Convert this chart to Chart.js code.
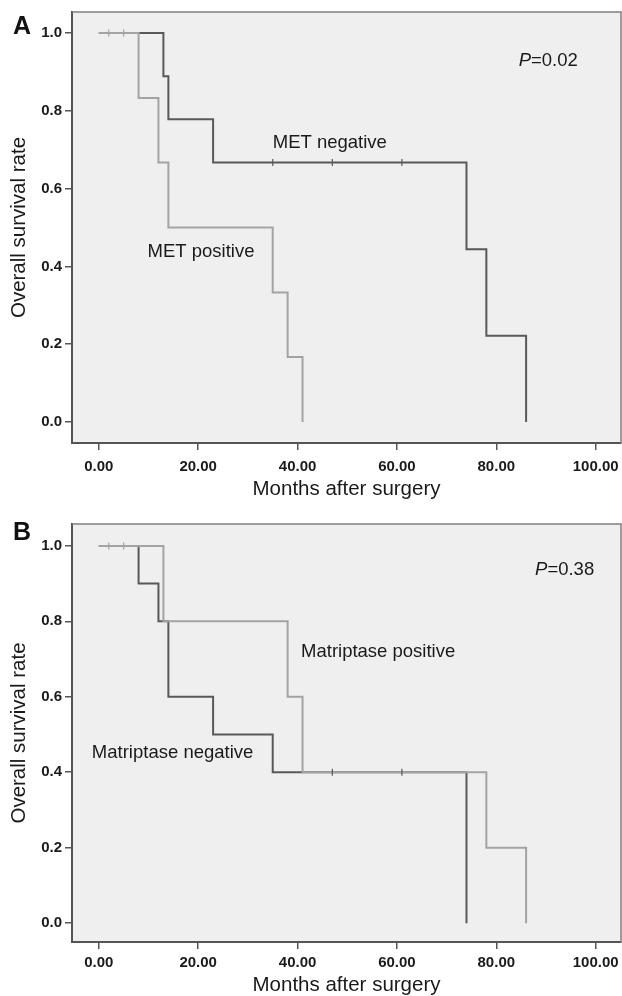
<!DOCTYPE html>
<html>
<head>
<meta charset="utf-8">
<script src="https://cdn.jsdelivr.net/npm/chart.js@4.4.1/dist/chart.umd.min.js"></script>
<style>
  body { margin: 0; background: #fff; overflow: hidden; }
  canvas { display: block; }
</style>
</head>
<body>
<canvas id="panelA" width="622" height="500"></canvas>
<canvas id="panelB" width="622" height="496"></canvas>
<script>
// tick labels shared by both panels
const monthTicks = [0, 20, 40, 60, 80, 100];
const survTicks = [0, 0.2, 0.4, 0.6, 0.8, 1.0];

// panel A - MET
const metNegTime = [0, 13, 14, 23, 74, 78, 86];
const metNegSurv = [1, 0.889, 0.778, 0.667, 0.444, 0.222, 0];
const metNegCensTime = [35, 47, 61];
const metNegCensSurv = [0.667, 0.667, 0.667];
const metPosTime = [0, 8, 12, 14, 35, 38, 41];
const metPosSurv = [1, 0.833, 0.667, 0.5, 0.333, 0.167, 0];
const metPosCensTime = [2, 5];
const metPosCensSurv = [1, 1];

// panel B - Matriptase
const matNegTime = [0, 8, 12, 14, 23, 35, 74];
const matNegSurv = [1, 0.9, 0.8, 0.6, 0.5, 0.4, 0];
const matNegCensTime = [47, 61];
const matNegCensSurv = [0.4, 0.4];
const matPosTime = [0, 13, 38, 41, 78, 86];
const matPosSurv = [1, 0.8, 0.6, 0.4, 0.2, 0];
const matPosCensTime = [2, 5];
const matPosCensSurv = [1, 1];

const DARK = '#595959';
const LIGHT = '#a3a3a3';
const FONT = "'Liberation Sans', Arial, sans-serif";

function pts(xs, ys) {
  return xs.map((x, i) => ({ x: x, y: ys[i] }));
}

function curve(xs, ys, color, order) {
  return {
    data: pts(xs, ys),
    showLine: true,
    stepped: true,
    borderColor: color,
    borderWidth: 2,
    pointRadius: 0,
    order: order
  };
}

function censor(xs, ys, color, order) {
  return {
    data: pts(xs, ys),
    showLine: false,
    pointStyle: 'line',
    rotation: 90,
    pointRadius: 3.5,
    borderColor: color,
    borderWidth: 1.2,
    order: order
  };
}

// background + frame + panel letter + notes
const decor = {
  id: 'decor',
  beforeDraw(chart) {
    const a = chart.chartArea, ctx = chart.ctx;
    ctx.save();
    ctx.fillStyle = '#efefef';
    ctx.fillRect(a.left, a.top, a.right - a.left, a.bottom - a.top);
    ctx.restore();
  },
  afterDraw(chart, args, opts) {
    const a = chart.chartArea, ctx = chart.ctx;
    const xs = chart.scales.x, ys = chart.scales.y;
    ctx.save();
    ctx.strokeStyle = '#808080';
    ctx.lineWidth = 1.5;
    ctx.beginPath();
    ctx.moveTo(a.left, a.top);
    ctx.lineTo(a.right, a.top);
    ctx.lineTo(a.right, a.bottom);
    ctx.stroke();

    ctx.fillStyle = '#111';
    ctx.font = 'bold 25px ' + FONT;
    ctx.textAlign = 'center';
    ctx.textBaseline = 'middle';
    ctx.fillText(opts.letter, 22, opts.letterY);

    ctx.fillStyle = '#1a1a1a';
    ctx.textBaseline = 'middle';
    opts.notes.forEach(n => {
      const px = xs.getPixelForValue(n.x), py = ys.getPixelForValue(n.y);
      ctx.textAlign = 'left';
      if (n.p) {
        ctx.font = 'italic 18.5px ' + FONT;
        ctx.fillText('P', px, py);
        const w = ctx.measureText('P').width;
        ctx.font = '18.5px ' + FONT;
        ctx.fillText(n.text, px + w, py);
      } else {
        ctx.font = '18.5px ' + FONT;
        ctx.fillText(n.text, px, py);
      }
    });
    ctx.restore();
  }
};

function makePanel(id, datasets, cfg) {
  return new Chart(document.getElementById(id), {
    type: 'scatter',
    data: { datasets: datasets },
    plugins: [decor],
    options: {
      responsive: false,
      animation: false,
      layout: { autoPadding: false, padding: { left: 0, top: cfg.top, right: 1, bottom: 0 } },
      plugins: {
        legend: { display: false },
        tooltip: { enabled: false },
        decor: { letter: cfg.letter, letterY: cfg.letterY, notes: cfg.notes }
      },
      scales: {
        x: {
          type: 'linear',
          min: -5.4,
          max: 105.1,
          afterFit: s => { s.height = cfg.xHeight; s.paddingLeft = 0; s.paddingRight = 0; },
          afterBuildTicks: s => { s.ticks = monthTicks.map(v => ({ value: v })); },
          ticks: {
            padding: cfg.xPad,
            color: '#1a1a1a',
            font: { family: FONT, size: 15, weight: 'bold', lineHeight: 1.2 },
            callback: v => v.toFixed(2)
          },
          grid: { drawOnChartArea: false, drawTicks: true, tickLength: 7, color: '#555', lineWidth: 1.5 },
          border: { display: true, color: '#555', width: 2 },
          title: {
            display: true,
            text: 'Months after surgery',
            color: '#1a1a1a',
            font: { family: FONT, size: 20.5, lineHeight: 1 },
            padding: { top: 0, bottom: 0 }
          }
        },
        y: {
          type: 'linear',
          min: cfg.yMin,
          max: cfg.yMax,
          afterFit: s => { s.width = 72; },
          afterBuildTicks: s => { s.ticks = survTicks.map(v => ({ value: v })); },
          ticks: {
            padding: 3,
            color: '#1a1a1a',
            font: { family: FONT, size: 15, weight: 'bold' },
            callback: v => v.toFixed(1)
          },
          grid: { drawOnChartArea: false, drawTicks: true, tickLength: 7, color: '#555', lineWidth: 1.5 },
          border: { display: true, color: '#555', width: 2 },
          title: {
            display: true,
            text: 'Overall survival rate',
            color: '#1a1a1a',
            font: { family: FONT, size: 20.5, lineHeight: 1.2 },
            padding: { top: 7, bottom: 0 }
          }
        }
      }
    }
  });
}

makePanel('panelA', [
  curve(metPosTime, metPosSurv, LIGHT, 1),
  censor(metPosCensTime, metPosCensSurv, LIGHT, 0),
  curve(metNegTime, metNegSurv, DARK, 2),
  censor(metNegCensTime, metNegCensSurv, DARK, 0)
], {
  letter: 'A', letterY: 27, top: 11, xHeight: 57, xPad: 8,
  yMin: -0.054, yMax: 1.054,
  notes: [
    { text: 'MET negative', x: 35, y: 0.718 },
    { text: 'MET positive', x: 9.8, y: 0.438 },
    { text: '=0.02', x: 84.5, y: 0.928, p: true }
  ]
});

makePanel('panelB', [
  curve(matPosTime, matPosSurv, LIGHT, 1),
  censor(matPosCensTime, matPosCensSurv, LIGHT, 0),
  curve(matNegTime, matNegSurv, DARK, 2),
  censor(matNegCensTime, matNegCensSurv, DARK, 0)
], {
  letter: 'B', letterY: 33, top: 24, xHeight: 54, xPad: 5,
  yMin: -0.05, yMax: 1.058,
  notes: [
    { text: 'Matriptase positive', x: 40.7, y: 0.719 },
    { text: 'Matriptase negative', x: -1.4, y: 0.451 },
    { text: '=0.38', x: 87.8, y: 0.936, p: true }
  ]
});
</script>
</body>
</html>
